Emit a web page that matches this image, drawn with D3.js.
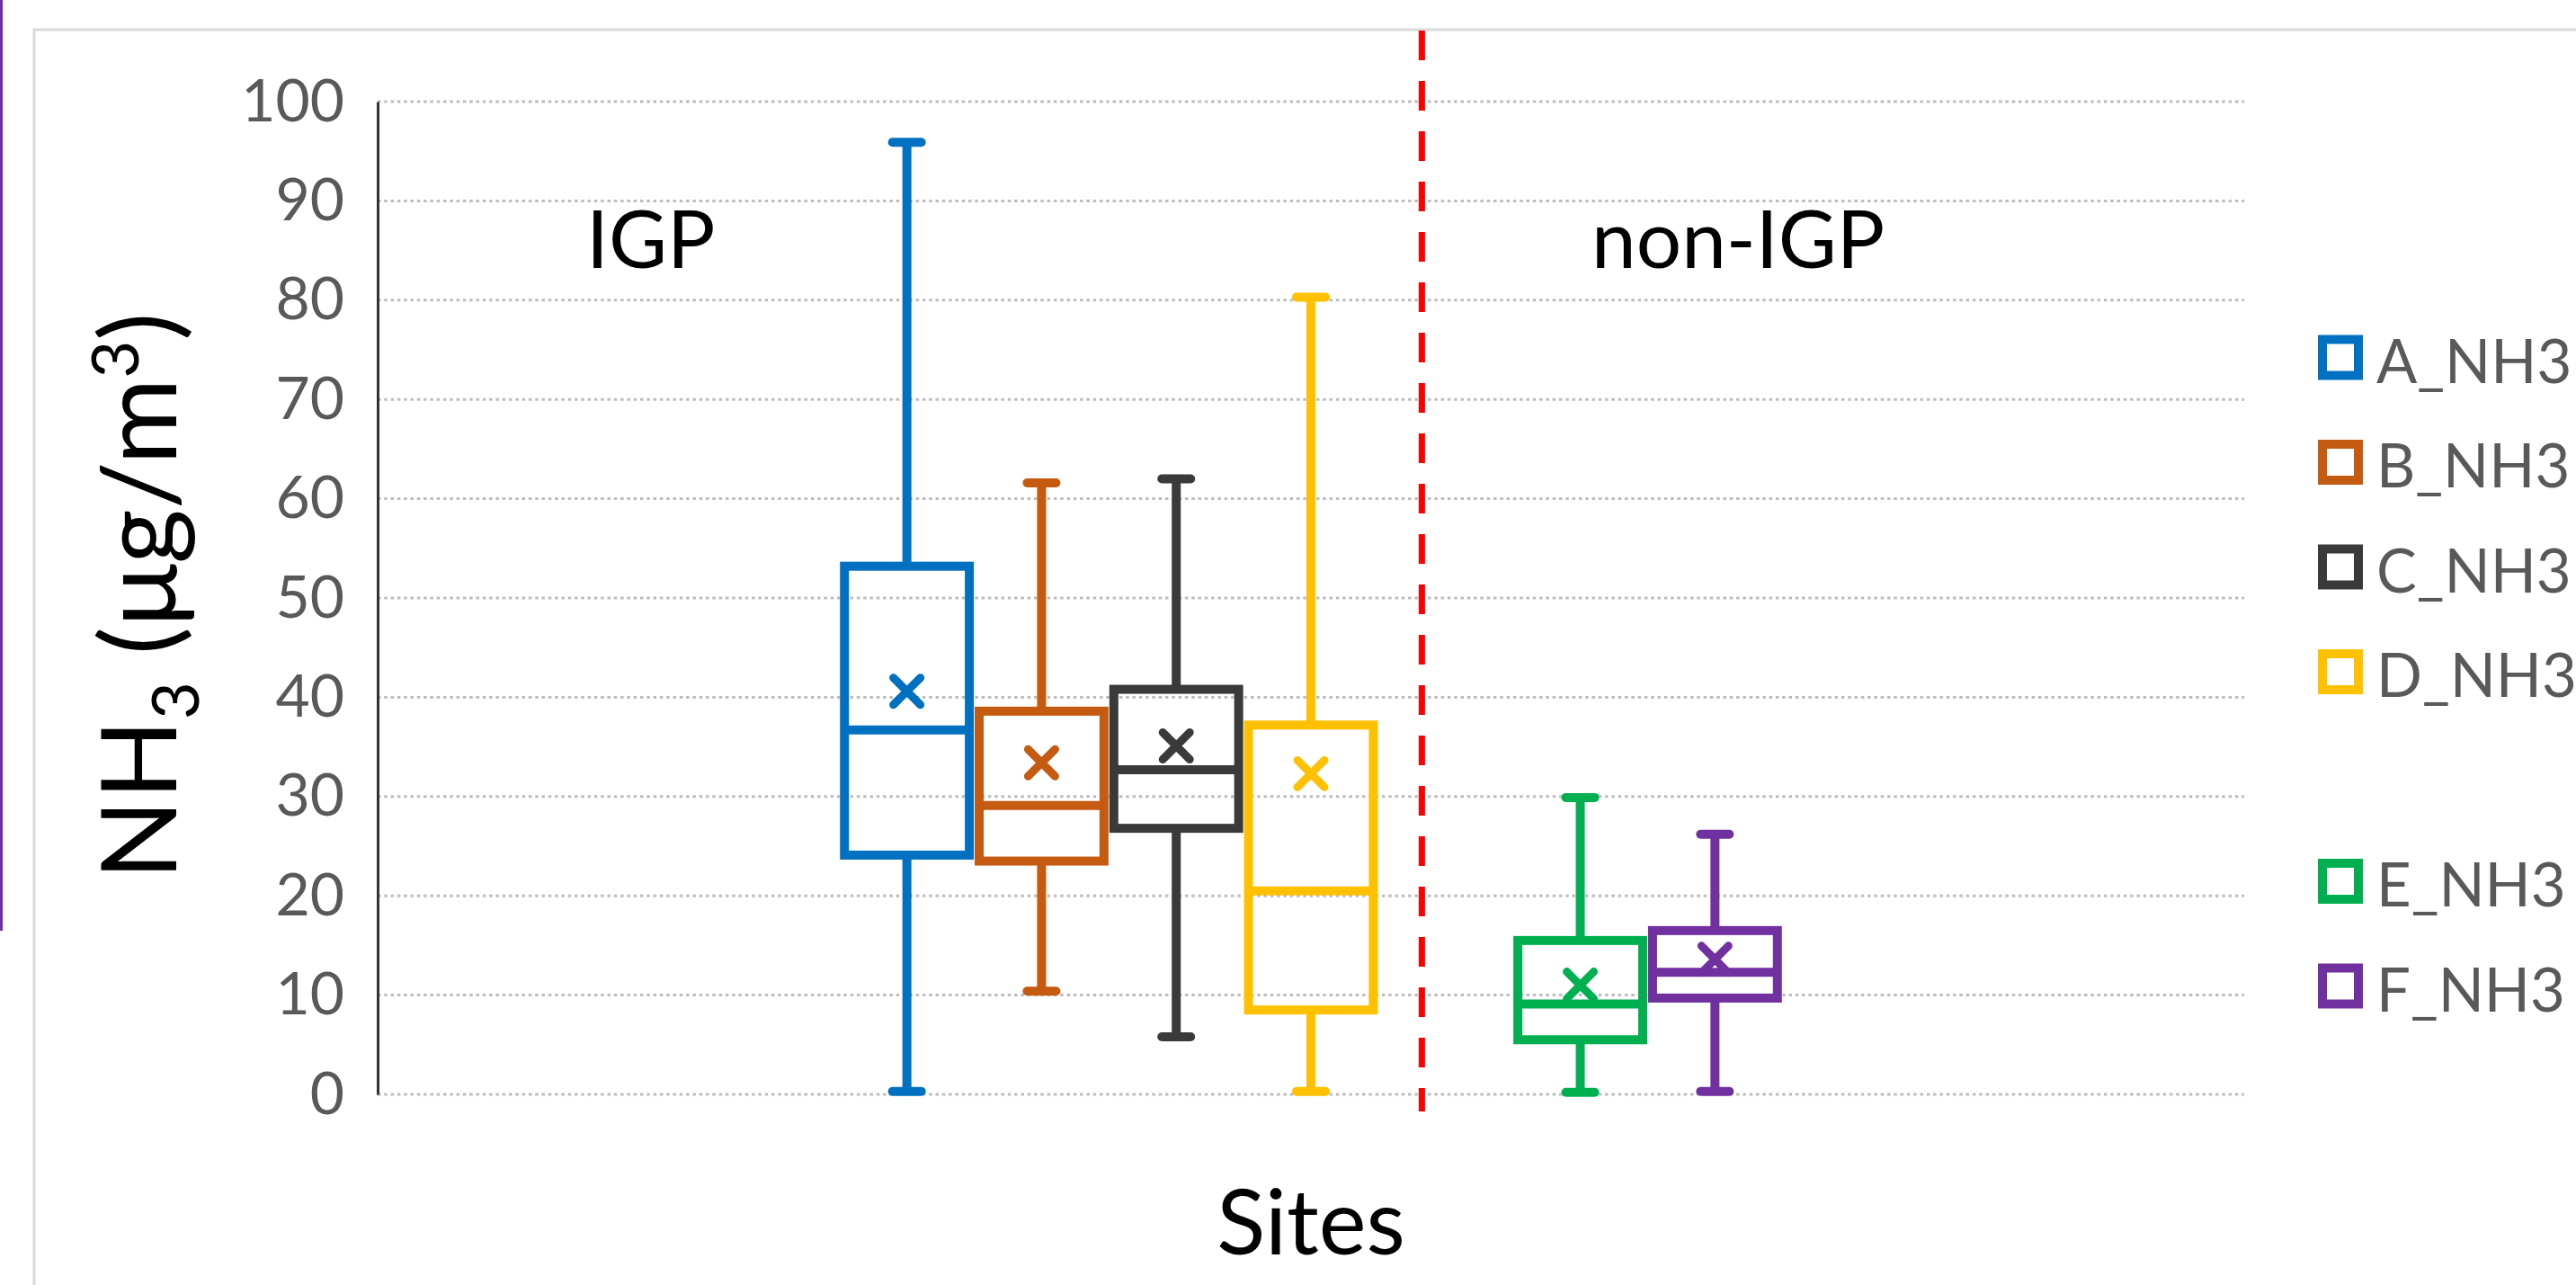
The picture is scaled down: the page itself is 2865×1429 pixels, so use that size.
<!DOCTYPE html>
<html><head><meta charset="utf-8">
<script src="https://cdn.jsdelivr.net/npm/d3@7"></script>
<style>html,body{margin:0;padding:0;background:#fff;overflow:hidden}</style>
</head><body>
<svg id="chart" width="2865" height="1429"></svg>
<script>
// ---- data ----
const categories = ["Sites"];
const seriesNames = ["A_NH3","B_NH3","C_NH3","D_NH3","","E_NH3","F_NH3"];
const seriesColors = ["#0070c0","#c55a11","#3a3a3a","#ffc000",null,"#00b050","#7030a0"];
const minValues    = [0.3, 10.4, 5.8, 0.3, null, 0.2, 0.3];
const q1Values     = [24.1, 23.5, 26.8, 8.5, null, 5.5, 9.7];
const medianValues = [36.7, 29.1, 32.7, 20.5, null, 9.1, 12.3];
const q3Values     = [53.2, 38.6, 40.8, 37.2, null, 15.5, 16.5];
const maxValues    = [95.9, 61.6, 62.0, 80.3, null, 29.9, 26.2];
const meanValues   = [40.6, 33.4, 35.1, 32.3, null, 11.0, 13.6];
const yTicks = [0,10,20,30,40,50,60,70,80,90,100];
const regionLabels = ["IGP","non-IGP"];

// ---- layout ----
const W = 2865, H = 1429;
const plot = {left: 420, right: 2496, top: 113, bottom: 1217};
const FONT = "Lato, 'Open Sans', sans-serif";
const svg = d3.select("#chart");

svg.append("rect").attr("width", W).attr("height", H).attr("fill", "#fff");
// chart frame
svg.append("rect").attr("x", 38).attr("y", 33).attr("width", 3000).attr("height", 1600)
  .attr("fill", "none").attr("stroke", "#d9d9d9").attr("stroke-width", 3);
// purple page edge
svg.append("line").attr("x1", 1.5).attr("x2", 1.5).attr("y1", 0).attr("y2", 1035)
  .attr("stroke", "#7030a0").attr("stroke-width", 3);

const y = d3.scaleLinear().domain([0, 100]).range([plot.bottom, plot.top]);
const xCat = d3.scaleBand().domain(categories).range([plot.left, plot.right]).paddingInner(0).paddingOuter(0.49);
const xSer = d3.scaleBand().domain(seriesNames).range([0, xCat.bandwidth()]).paddingInner(0.073).paddingOuter(0.0365);
const bw = xSer.bandwidth();

// gridlines
svg.append("g").selectAll("line").data(yTicks).join("line")
  .attr("x1", plot.left).attr("x2", plot.right)
  .attr("y1", d => y(d)).attr("y2", d => y(d))
  .attr("stroke", "#bdbdbd").attr("stroke-width", 3).attr("stroke-dasharray", "3.5,3.8");

// y axis
const yAxis = svg.append("g").attr("transform", `translate(${plot.left},0)`)
  .call(d3.axisLeft(y).tickValues(yTicks).tickSize(0).tickSizeOuter(0).tickPadding(37));
yAxis.select(".domain").attr("stroke", "#333").attr("stroke-width", 3);
yAxis.selectAll("text").attr("font-family", FONT).attr("font-size", 66).attr("fill", "#595959");

// y title
const yt = svg.append("text").attr("transform", "translate(196,663) rotate(-90)")
  .attr("text-anchor", "middle").attr("font-family", FONT).attr("font-size", 117).attr("fill", "#000");
yt.append("tspan").text("NH");
yt.append("tspan").attr("font-size", 72).attr("dy", 25).text("3");
yt.append("tspan").attr("dy", -25).text(" (μg/m");
yt.append("tspan").attr("font-size", 72).attr("dy", -42).text("3");
yt.append("tspan").attr("dy", 42).text(")");

// x title
svg.append("text").attr("x", xCat(categories[0]) + xCat.bandwidth()/2).attr("y", 1395)
  .attr("text-anchor", "middle").attr("font-family", FONT).attr("font-size", 100).attr("fill", "#000")
  .text(categories[0]);

// region labels
svg.append("text").attr("x", 652).attr("y", 298).attr("font-family", FONT).attr("font-size", 89).text(regionLabels[0]);
svg.append("text").attr("x", 1770).attr("y", 298).attr("font-family", FONT).attr("font-size", 89).text(regionLabels[1]);

// separator
const sepX = xCat(categories[0]) + xSer("") + bw * 0.31;
svg.append("line").attr("x1", sepX).attr("x2", sepX).attr("y1", 34).attr("y2", 1236)
  .attr("stroke", "#ff0000").attr("stroke-width", 7).attr("stroke-dasharray", "33,23");

// boxes
const SW = 10;
const boxes = svg.append("g");
seriesNames.forEach((name, i) => {
  if (minValues[i] == null) return;
  const c = seriesColors[i];
  const cx = xCat(categories[0]) + xSer(name) + bw / 2;
  const g = boxes.append("g").attr("stroke", c).attr("fill", "none").attr("stroke-width", SW);
  g.append("line").attr("x1", cx).attr("x2", cx).attr("y1", y(q3Values[i])).attr("y2", y(maxValues[i]));
  g.append("line").attr("x1", cx).attr("x2", cx).attr("y1", y(q1Values[i])).attr("y2", y(minValues[i]));
  [maxValues[i], minValues[i]].forEach(v => {
    g.append("line").attr("x1", cx - 16).attr("x2", cx + 16).attr("y1", y(v)).attr("y2", y(v))
      .attr("stroke-linecap", "round");
  });
  g.append("rect").attr("x", cx - bw / 2).attr("y", y(q3Values[i]))
    .attr("width", bw).attr("height", y(q1Values[i]) - y(q3Values[i]));
  g.append("line").attr("x1", cx - bw / 2).attr("x2", cx + bw / 2)
    .attr("y1", y(medianValues[i])).attr("y2", y(medianValues[i]));
  const my = y(meanValues[i]);
  g.append("path").attr("d", `M${cx-15},${my-15}L${cx+15},${my+15}M${cx-15},${my+15}L${cx+15},${my-15}`)
    .attr("stroke-width", 9).attr("stroke-linecap", "round");
});

// legend
const ly = d3.scalePoint().domain(seriesNames).range([397.5, 1096.5]);
const leg = svg.append("g");
seriesNames.forEach((name, i) => {
  if (!name) return;
  const cy = ly(name);
  leg.append("rect").attr("x", 2583).attr("y", cy - 20).attr("width", 40).attr("height", 40)
    .attr("fill", "#fff").attr("stroke", seriesColors[i]).attr("stroke-width", 10);
  leg.append("text").attr("x", 2643).attr("y", cy + 28).attr("font-family", FONT)
    .attr("font-size", 67).attr("fill", "#595959").text(name);
});
</script>
</body></html>
